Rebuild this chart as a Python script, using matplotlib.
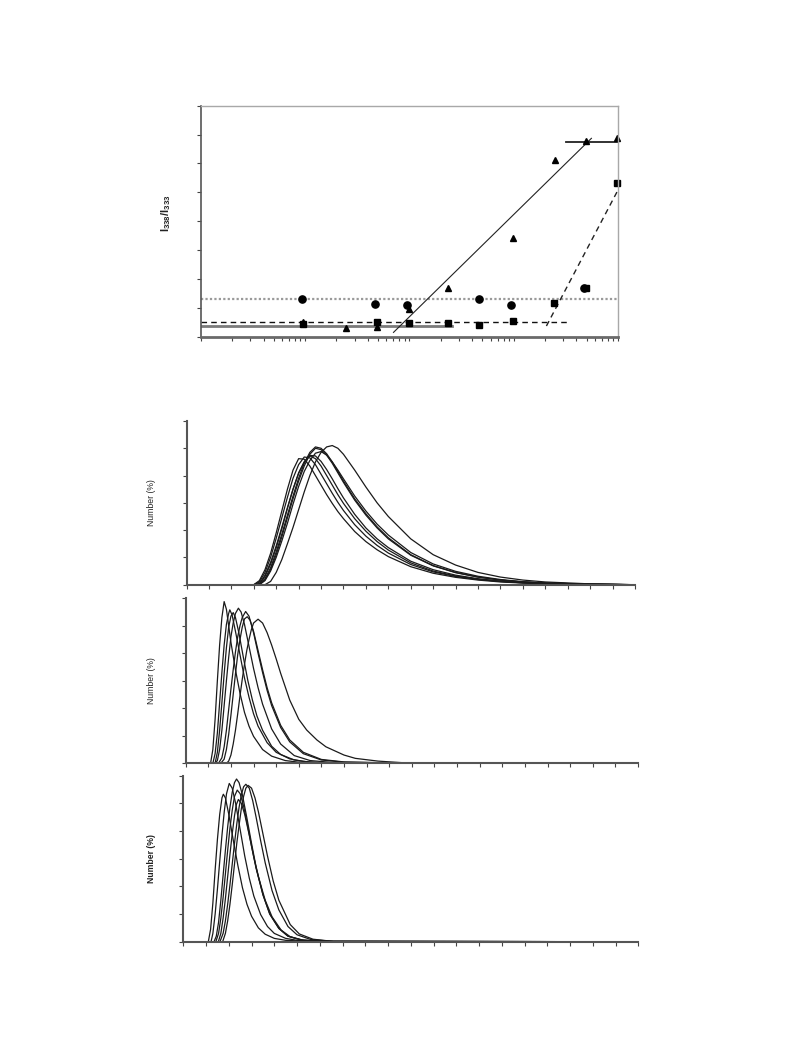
import numpy as np
import matplotlib
matplotlib.use("Agg")
import matplotlib.pyplot as plt
from matplotlib.ticker import LogLocator, NullFormatter

plt.rcParams['font.family'] = ['Liberation Sans', 'DejaVu Sans']
plt.rcParams['mathtext.fontset'] = 'custom'
plt.rcParams['mathtext.rm'] = 'Liberation Sans'
plt.rcParams['mathtext.bf'] = 'Liberation Sans:bold'

# ---- top panel: I338/I333 vs concentration (log x) ----
circ_x = [0.0093, 0.047, 0.095, 0.47, 0.95, 4.7]
circ_y = [1.305, 1.13, 1.10, 1.29, 1.09, 1.69]
tri_x = [0.0095, 0.0245, 0.049, 0.099, 0.234, 0.99, 2.5, 4.9, 9.8]
tri_y = [0.50, 0.29, 0.35, 0.96, 1.70, 3.43, 6.11, 6.77, 6.88]
sq_x = [0.0095, 0.049, 0.099, 0.234, 0.47, 0.99, 2.44, 4.9, 9.8]
sq_y = [0.44, 0.50, 0.47, 0.47, 0.39, 0.53, 1.17, 1.68, 5.33]

# fitted lines
dot_line = ([0.001, 10], [1.305, 1.305])
dash_flat = ([0.001, 3.27], [0.50, 0.50])
gray_flat = ([0.001, 0.257], [0.38, 0.38])
tri_rise = ([0.0705, 5.56], [0.15, 6.87])
tri_flat = ([3.16, 10], [6.73, 6.73])
sq_rise = ([2.06, 10], [0.37, 5.08])

# ---- panel 2: size distributions, shared grid ----
p2_x = [3.0, 3.25, 3.5, 3.75, 4.0, 4.25, 4.5, 4.75, 5.0, 5.25, 5.5, 5.75, 6.0,
        6.25, 6.5, 6.75, 7.0, 7.5, 8.0, 8.5, 9.0, 10, 11, 12, 13, 14, 15, 16, 18, 20]
p2_y = [
    [0, 0.15, 0.55, 1.15, 1.9, 2.7, 3.5, 4.2, 4.62, 4.6, 4.35, 4.0, 3.65, 3.3, 2.98, 2.68, 2.42,
     1.95, 1.58, 1.28, 1.03, 0.66, 0.42, 0.27, 0.17, 0.1, 0.06, 0.03, 0.01, 0],
    [0, 0.1, 0.45, 1.0, 1.7, 2.45, 3.2, 3.9, 4.4, 4.68, 4.65, 4.4, 4.05, 3.7, 3.35, 3.02, 2.72,
     2.2, 1.78, 1.44, 1.16, 0.74, 0.47, 0.3, 0.19, 0.12, 0.07, 0.04, 0.01, 0],
    [0, 0.03, 0.3, 0.75, 1.35, 2.05, 2.8, 3.5, 4.1, 4.5, 4.72, 4.62, 4.35, 4.0, 3.65, 3.3, 2.98,
     2.42, 1.96, 1.58, 1.27, 0.8, 0.5, 0.32, 0.2, 0.12, 0.07, 0.04, 0.01, 0],
    [0, 0.02, 0.22, 0.62, 1.2, 1.85, 2.55, 3.25, 3.9, 4.45, 4.85, 5.05, 5.0, 4.8, 4.5, 4.15, 3.8,
     3.15, 2.6, 2.12, 1.72, 1.1, 0.7, 0.45, 0.28, 0.17, 0.1, 0.06, 0.02, 0],
    [0, 0, 0.18, 0.55, 1.1, 1.75, 2.45, 3.15, 3.8, 4.35, 4.78, 5.0, 4.95, 4.75, 4.45, 4.1, 3.75,
     3.1, 2.55, 2.08, 1.68, 1.08, 0.69, 0.44, 0.28, 0.17, 0.1, 0.06, 0.02, 0],
    [0, 0, 0.15, 0.5, 1.0, 1.6, 2.25, 2.95, 3.6, 4.15, 4.55, 4.82, 4.88, 4.75, 4.5, 4.2, 3.88,
     3.25, 2.7, 2.22, 1.82, 1.18, 0.76, 0.49, 0.31, 0.19, 0.11, 0.06, 0.02, 0],
    [0, 0.04, 0.35, 0.82, 1.42, 2.1, 2.82, 3.5, 4.08, 4.5, 4.74, 4.72, 4.52, 4.22, 3.88, 3.52, 3.18,
     2.58, 2.08, 1.68, 1.36, 0.86, 0.55, 0.35, 0.22, 0.13, 0.08, 0.04, 0.01, 0],
    [0, 0, 0, 0.12, 0.45, 0.92, 1.5, 2.1, 2.75, 3.4, 4.0, 4.5, 4.85, 5.05, 5.1, 5.0, 4.78,
     4.2, 3.58, 3.0, 2.5, 1.68, 1.1, 0.72, 0.45, 0.28, 0.17, 0.1, 0.03, 0],
]

# ---- panel 3 ----
p3_x = [
    [1.0, 1.1, 1.2, 1.3, 1.4, 1.5, 1.6, 1.7, 1.8, 1.9, 2.0, 2.2, 2.4, 2.6, 2.8, 3.0, 3.4, 3.8, 4.4, 5.0, 6.0, 10.0],
    [1.1, 1.2, 1.3, 1.4, 1.5, 1.6, 1.7, 1.8, 1.9, 1.95, 2.05, 2.2, 2.4, 2.6, 2.8, 3.0, 3.2, 3.6, 4.0, 4.6, 5.2, 6.0, 10.0],
    [1.0, 1.3, 1.4, 1.5, 1.6, 1.7, 1.8, 1.9, 2.0, 2.1, 2.2, 2.35, 2.55, 2.75, 2.95, 3.15, 3.4, 3.8, 4.2, 4.8, 5.5, 6.5, 10.0],
    [1.3, 1.4, 1.5, 1.6, 1.7, 1.8, 1.9, 2.0, 2.1, 2.2, 2.33, 2.45, 2.6, 2.8, 3.0, 3.2, 3.4, 3.8, 4.2, 4.8, 5.5, 6.5, 10.0],
    [1.45, 1.6, 1.7, 1.8, 1.9, 2.0, 2.1, 2.2, 2.3, 2.4, 2.5, 2.65, 2.8, 3.0, 3.2, 3.4, 3.6, 3.8, 4.2, 4.6, 5.2, 6.0, 7.0, 10.0],
    [1.55, 1.7, 1.8, 1.9, 2.0, 2.1, 2.2, 2.3, 2.4, 2.5, 2.6, 2.72, 2.85, 3.0, 3.2, 3.4, 3.6, 3.8, 4.2, 4.6, 5.2, 6.0, 7.0, 10.0],
    [1.8, 1.9, 2.0, 2.1, 2.2, 2.3, 2.4, 2.5, 2.6, 2.7, 2.8, 2.9, 3.0, 3.2, 3.4, 3.6, 3.8, 4.0, 4.2, 4.6, 5.0, 5.35, 5.8, 6.2, 7.0, 7.5, 8.5, 10.0],
]
p3_y = [
    [0, 0, 0.5, 1.6, 3.0, 4.3, 5.3, 5.88, 5.6, 5.0, 4.4, 3.4, 2.55, 1.85, 1.35, 0.98, 0.5, 0.26, 0.1, 0.04, 0.01, 0],
    [0, 0, 0.35, 1.1, 2.2, 3.3, 4.3, 5.05, 5.45, 5.58, 5.4, 4.8, 3.95, 3.1, 2.4, 1.8, 1.35, 0.75, 0.4, 0.16, 0.07, 0.02, 0],
    [0, 0, 0.4, 1.2, 2.2, 3.25, 4.2, 4.95, 5.35, 5.48, 5.3, 4.75, 3.85, 3.0, 2.3, 1.72, 1.2, 0.62, 0.32, 0.12, 0.04, 0.01, 0],
    [0, 0.1, 0.5, 1.2, 2.1, 3.0, 3.85, 4.6, 5.1, 5.45, 5.64, 5.5, 5.05, 4.25, 3.45, 2.75, 2.15, 1.25, 0.7, 0.28, 0.1, 0.03, 0],
    [0, 0.2, 0.6, 1.2, 1.95, 2.7, 3.4, 4.05, 4.6, 5.0, 5.3, 5.52, 5.35, 4.75, 4.0, 3.3, 2.65, 2.1, 1.3, 0.78, 0.35, 0.12, 0.04, 0],
    [0, 0.15, 0.5, 1.05, 1.75, 2.5, 3.25, 3.95, 4.5, 4.95, 5.25, 5.33, 5.2, 4.8, 4.1, 3.4, 2.75, 2.2, 1.38, 0.85, 0.4, 0.14, 0.05, 0],
    [0, 0.08, 0.3, 0.7, 1.2, 1.8, 2.45, 3.05, 3.6, 4.1, 4.5, 4.85, 5.1, 5.24, 5.1, 4.75, 4.3, 3.8, 3.27, 2.3, 1.6, 1.21, 0.85, 0.6, 0.3, 0.18, 0.08, 0],
]

# ---- panel 4 ----
p4_x = [
    [0.44, 1.1, 1.2, 1.3, 1.4, 1.5, 1.6, 1.7, 1.76, 1.85, 2.0, 2.2, 2.4, 2.6, 2.8, 3.0, 3.3, 3.6, 4.0, 4.5, 5.5, 20],
    [0.44, 1.22, 1.3, 1.4, 1.5, 1.6, 1.7, 1.8, 1.9, 2.02, 2.15, 2.3, 2.5, 2.7, 2.9, 3.1, 3.4, 3.7, 4.0, 4.5, 5.0, 6.0, 20],
    [0.44, 1.35, 1.45, 1.55, 1.65, 1.75, 1.85, 1.95, 2.05, 2.15, 2.25, 2.34, 2.45, 2.6, 2.8, 3.0, 3.2, 3.5, 3.8, 4.2, 4.6, 5.2, 6.2, 20],
    [0.44, 1.43, 1.55, 1.65, 1.75, 1.85, 1.95, 2.05, 2.15, 2.25, 2.37, 2.5, 2.65, 2.8, 3.0, 3.2, 3.5, 3.8, 4.2, 4.6, 5.2, 6.2, 20],
    [0.44, 1.54, 1.65, 1.75, 1.85, 1.95, 2.05, 2.15, 2.25, 2.33, 2.42, 2.55, 2.7, 2.9, 3.1, 3.3, 3.6, 3.9, 4.3, 4.7, 5.3, 6.3, 20],
    [0.44, 1.61, 1.75, 1.85, 1.95, 2.05, 2.15, 2.25, 2.35, 2.45, 2.55, 2.65, 2.75, 2.9, 3.05, 3.2, 3.4, 3.6, 3.9, 4.2, 4.6, 5.0, 5.6, 6.6, 20],
    [0.44, 1.73, 1.85, 1.95, 2.05, 2.15, 2.25, 2.35, 2.45, 2.55, 2.65, 2.75, 2.85, 3.0, 3.15, 3.3, 3.5, 3.7, 3.95, 4.2, 4.7, 5.1, 5.7, 6.6, 20],
]
p4_y = [
    [0, 0, 0.45, 1.4, 2.6, 3.7, 4.6, 5.2, 5.33, 5.2, 4.6, 3.65, 2.75, 1.95, 1.35, 0.92, 0.5, 0.27, 0.12, 0.05, 0.01, 0],
    [0, 0, 0.3, 1.0, 1.9, 2.9, 3.85, 4.7, 5.35, 5.72, 5.55, 5.0, 4.05, 3.1, 2.3, 1.65, 0.98, 0.55, 0.3, 0.12, 0.05, 0.01, 0],
    [0, 0, 0.2, 0.7, 1.5, 2.4, 3.3, 4.15, 4.85, 5.4, 5.75, 5.88, 5.75, 5.3, 4.45, 3.55, 2.7, 1.7, 1.0, 0.48, 0.2, 0.06, 0.01, 0],
    [0, 0, 0.3, 0.85, 1.6, 2.45, 3.3, 4.1, 4.75, 5.25, 5.48, 5.35, 4.9, 4.3, 3.45, 2.65, 1.7, 1.0, 0.48, 0.2, 0.06, 0.01, 0],
    [0, 0, 0.3, 0.85, 1.55, 2.35, 3.15, 3.9, 4.55, 4.95, 5.14, 5.0, 4.6, 3.85, 3.05, 2.35, 1.5, 0.9, 0.42, 0.18, 0.05, 0.01, 0],
    [0, 0, 0.3, 0.75, 1.35, 2.05, 2.8, 3.55, 4.25, 4.85, 5.3, 5.6, 5.69, 5.55, 5.1, 4.5, 3.65, 2.85, 1.85, 1.15, 0.55, 0.25, 0.08, 0.01, 0],
    [0, 0, 0.3, 0.75, 1.35, 2.05, 2.8, 3.55, 4.2, 4.8, 5.25, 5.55, 5.65, 5.55, 5.2, 4.7, 3.9, 3.1, 2.2, 1.5, 0.62, 0.28, 0.09, 0.01, 0],
]

W, H = 793, 1057
fig = plt.figure(figsize=(W / 100, H / 100), dpi=100)


def rect(left, top, right, bottom):
    return [left / W, 1 - bottom / H, (right - left) / W, (bottom - top) / H]


# top panel
ax = fig.add_axes(rect(200.7, 105.7, 618, 336.7))
ax.set_xscale('log')
ax.set_xlim(0.001, 10)
ax.set_ylim(0, 8)
ax.plot(*dot_line, color='#9a9a9a', lw=1.6, ls=(0, (1, 1)))
ax.plot(*gray_flat, color='#7a7a7a', lw=2.0)
ax.plot(*dash_flat, color='#111111', lw=1.0, ls=(0, (4, 3)))
ax.plot(*tri_rise, color='#222222', lw=0.8)
ax.plot(*tri_flat, color='#222222', lw=1.3)
ax.plot(*sq_rise, color='#222222', lw=1.0, ls=(0, (4, 3)))
ax.plot(circ_x, circ_y, 'o', color='black', ms=5.2, ls='none', clip_on=False)
ax.plot(tri_x, tri_y, '^', color='black', ms=5.0, ls='none', clip_on=False)
ax.plot(sq_x, sq_y, 's', color='black', ms=4.6, ls='none', clip_on=False)
ax.set_yticks(range(0, 9))
ax.xaxis.set_major_locator(LogLocator(base=10, numticks=10))
ax.xaxis.set_minor_locator(LogLocator(base=10, subs=np.arange(2, 10), numticks=20))
ax.xaxis.set_major_formatter(NullFormatter())
ax.xaxis.set_minor_formatter(NullFormatter())
ax.set_yticklabels([])
ax.tick_params(axis='both', which='both', direction='out', length=3, width=0.8, color='#444444')
ax.spines['top'].set_color('#a8a8a8')
ax.spines['right'].set_color('#a8a8a8')
ax.spines['top'].set_linewidth(1.0)
ax.spines['right'].set_linewidth(1.0)
ax.spines['left'].set_color('#555555')
ax.spines['left'].set_linewidth(1.2)
ax.spines['bottom'].set_color('#6a6a6a')
ax.spines['bottom'].set_linewidth(2.0)
fig.text(166 / W, 1 - 213 / H, r'$\mathbf{I_{338}/I_{333}}$', rotation=90,
         ha='center', va='center', fontsize=8, color='#222222')


def dist_panel(box, xs, ys, bold=False):
    a = fig.add_axes(rect(*box))
    for x, y in zip(xs, ys):
        a.plot(x, y, color='#1a1a1a', lw=0.9)
    a.set_xlim(0, 20)
    a.set_ylim(0, 6)
    a.set_xticks(range(0, 21))
    a.set_yticks(range(0, 7))
    a.set_xticklabels([])
    a.set_yticklabels([])
    a.tick_params(direction='out', length=3, width=0.8, color='#444444')
    a.spines['top'].set_visible(False)
    a.spines['right'].set_visible(False)
    for s in ['left', 'bottom']:
        a.spines[s].set_color('#555555')
        a.spines[s].set_linewidth(1.5)
    cy = (box[1] + box[3]) / 2
    fig.text(151 / W, 1 - cy / H, 'Number (%)', rotation=90, ha='center', va='center',
             fontsize=6.2, color='#222222', fontweight='bold' if bold else 'normal')
    return a


dist_panel((186.5, 421, 635, 584.7), [p2_x] * len(p2_y), p2_y)
dist_panel((185.7, 598.3, 638, 763.3), p3_x, p3_y)
dist_panel((183.3, 775.7, 638.3, 941.7), p4_x, p4_y, bold=True)

plt.savefig("out.png", dpi=100)
